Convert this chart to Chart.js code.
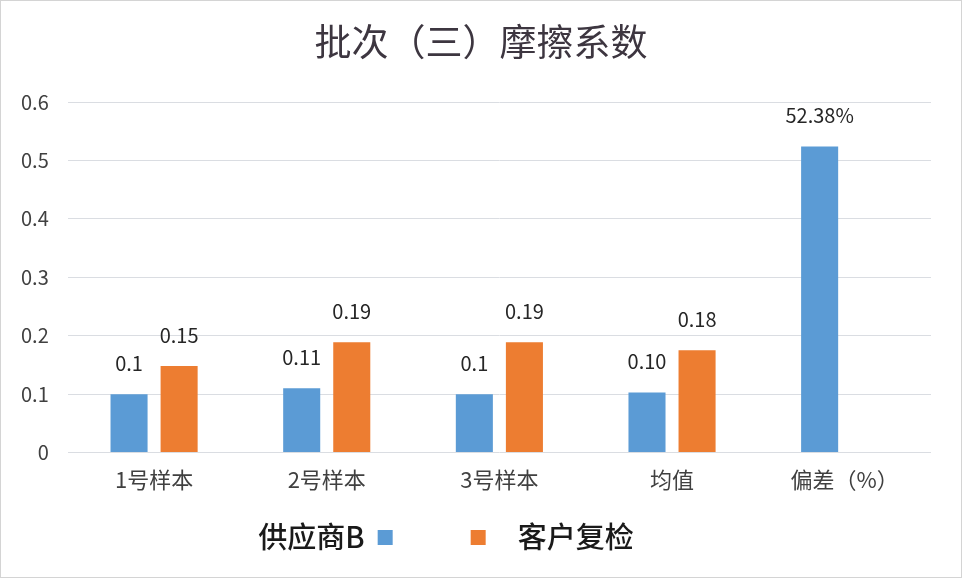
<!DOCTYPE html>
<html>
<head>
<meta charset="utf-8">
<script src="https://cdn.jsdelivr.net/npm/chart.js@4/dist/chart.umd.min.js"></script>
<style>
  html, body { margin: 0; padding: 0; background: #ffffff; }
  #wrap { width: 962px; height: 578px; position: relative; }
</style>
</head>
<body>
<div id="wrap"><canvas id="c" width="962" height="578"></canvas></div>
<script>
const categories = ['1号样本', '2号样本', '3号样本', '均值', '偏差（%）'];
const supplierB = [0.1, 0.11, 0.1, 0.103, 0.5238];
const customerCheck = [0.148, 0.189, 0.189, 0.175, null];
const supplierLabels = ['0.1', '0.11', '0.1', '0.10', '52.38%'];
const customerLabels = ['0.15', '0.19', '0.19', '0.18', ''];
const seriesNames = ['供应商B', '客户复检'];
const yTicks = [0, 0.1, 0.2, 0.3, 0.4, 0.5, 0.6];
const titleText = '批次（三）摩擦系数';

const FONT = "'Noto Sans CJK SC', 'Noto Sans', sans-serif";
const BLUE = '#5B9BD5';
const ORANGE = '#ED7D31';

const dataLabelPlugin = {
  id: 'dataLabels',
  afterDatasetsDraw(chart) {
    const ctx = chart.ctx;
    const labelSets = [supplierLabels, customerLabels];
    ctx.save();
    ctx.font = '20px ' + FONT;
    ctx.fillStyle = '#262626';
    ctx.textAlign = 'center';
    ctx.textBaseline = 'middle';
    chart.data.datasets.forEach((ds, di) => {
      const meta = chart.getDatasetMeta(di);
      meta.data.forEach((el, i) => {
        const v = ds.data[i];
        if (v === null || v === undefined) return;
        const t = labelSets[di][i];
        if (!t) return;
        ctx.fillText(t, el.x, el.y - 31);
      });
    });
    ctx.restore();
  }
};

const titleAndLegendPlugin = {
  id: 'titleAndLegend',
  afterDraw(chart) {
    const ctx = chart.ctx;
    ctx.save();
    // title
    ctx.font = '37px ' + FONT;
    ctx.fillStyle = '#3d3640';
    ctx.textAlign = 'center';
    ctx.textBaseline = 'middle';
    ctx.fillText(titleText, chart.width / 2, 42);
    // legend
    ctx.font = '500 29px ' + FONT;
    ctx.fillStyle = '#1a1a1a';
    const y = 537;
    const w1 = ctx.measureText(seriesNames[0]).width;
    const w2 = ctx.measureText(seriesNames[1]).width;
    const box = 15, g1 = 13, g2 = 78, g3 = 32;
    const total = w1 + g1 + box + g2 + box + g3 + w2;
    let x = 446 - total / 2;
    ctx.textAlign = 'left';
    ctx.fillText(seriesNames[0], x, y);
    x += w1 + g1;
    ctx.fillStyle = BLUE;
    ctx.fillRect(x, y - 7, box, box);
    x += box + g2;
    ctx.fillStyle = ORANGE;
    ctx.fillRect(x, y - 7, box, box);
    x += box + g3;
    ctx.fillStyle = '#1a1a1a';
    ctx.fillText(seriesNames[1], x, y);
    // outer frame
    ctx.strokeStyle = '#d4d4d4';
    ctx.lineWidth = 1;
    ctx.strokeRect(0.5, 0.5, chart.width - 1, chart.height - 1);
    ctx.restore();
  }
};

new Chart(document.getElementById('c'), {
  type: 'bar',
  data: {
    labels: categories,
    datasets: [
      { label: seriesNames[0], data: supplierB, backgroundColor: BLUE },
      { label: seriesNames[1], data: customerCheck, backgroundColor: ORANGE }
    ]
  },
  options: {
    responsive: false,
    animation: false,
    devicePixelRatio: 1,
    categoryPercentage: 0.58,
    barPercentage: 0.74,
    layout: { padding: { left: 2, right: 31, top: 102, bottom: 71 } },
    plugins: {
      legend: { display: false },
      tooltip: { enabled: false },
      title: { display: false }
    },
    scales: {
      x: {
        grid: { display: false, drawTicks: false },
        border: { display: false },
        ticks: { color: '#404040', font: { family: FONT, size: 22 }, padding: 14 }
      },
      y: {
        min: 0, max: 0.6,
        afterBuildTicks(scale) { scale.ticks = yTicks.map(v => ({ value: v })); },
        grid: { color: '#dadde2', drawTicks: false, lineWidth: 1 },
        border: { display: false },
        ticks: {
          color: '#404040',
          font: { family: FONT, size: 20 },
          padding: 19,
          callback: (v) => String(v)
        }
      }
    }
  },
  plugins: [dataLabelPlugin, titleAndLegendPlugin]
});
</script>
</body>
</html>
